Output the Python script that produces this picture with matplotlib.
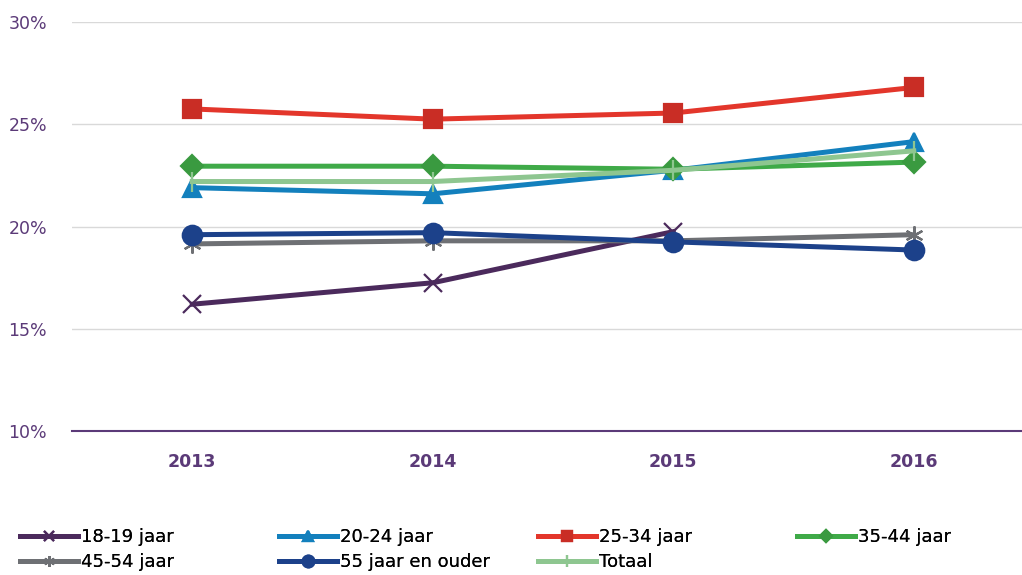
import matplotlib.pyplot as plt
import numpy as np

# data (percentages per age group)
years = ["2013", "2014", "2015", "2016"]
groups = ["18-19 jaar", "20-24 jaar", "25-34 jaar", "35-44 jaar",
          "45-54 jaar", "55 jaar en ouder", "Totaal"]
v_18_19 = [16.2, 17.25, 19.75, np.nan]
v_20_24 = [21.9, 21.6, 22.75, 24.15]
v_25_34 = [25.75, 25.25, 25.55, 26.8]
v_35_44 = [22.95, 22.95, 22.8, 23.15]
v_45_54 = [19.15, 19.3, 19.3, 19.6]
v_55 = [19.6, 19.7, 19.25, 18.85]
v_totaal = [22.2, 22.2, 22.75, 23.7]

series = [v_18_19, v_20_24, v_25_34, v_35_44, v_45_54, v_55, v_totaal]
line_colors = ["#4b2a5c", "#1380bd", "#e3362b", "#3faa48", "#6e7074", "#1c418a", "#8ec690"]
marker_colors = ["#4b2a5c", "#1380bd", "#c92d25", "#3a9a40", "#6e7074", "#1c418a", "#8ec690"]
markers = ["x", "^", "s", "D", (6, 2, 0), "o", "|"]
msizes = [13, 13, 13, 11, 13, 14, 14]

purple = "#5b3a78"

fig = plt.figure(figsize=(10.22, 5.75), dpi=100)
ax = fig.add_axes([0.0705, 0.2504, 0.9295, 0.7113])

x = np.arange(len(years))
handles = []
for vals, lab, lc, mc, m, ms in zip(series, groups, line_colors, marker_colors, markers, msizes):
    h, = ax.plot(x, vals, color=lc, lw=3.6, marker=m, markersize=ms,
                 markerfacecolor=mc, markeredgecolor=mc, markeredgewidth=1.6,
                 label=lab)
    handles.append(h)

ax.set_ylim(10, 30)
ax.set_xlim(-0.5, 3.45)
ax.set_yticks([10, 15, 20, 25, 30])
ax.set_yticklabels(["10%", "15%", "20%", "25%", "30%"])
ax.set_xticks(x)
ax.set_xticklabels(years, fontweight="bold")
ax.tick_params(axis="y", length=0, labelsize=12.5, labelcolor=purple, pad=18)
ax.tick_params(axis="x", length=0, labelsize=12.5, labelcolor=purple, pad=16)
ax.grid(axis="y", color="#d9d9d9", lw=1)
ax.set_axisbelow(True)
for s in ["top", "right", "left"]:
    ax.spines[s].set_visible(False)
ax.spines["bottom"].set_color(purple)
ax.spines["bottom"].set_linewidth(1.5)

# legend: 4 columns placed by hand, row-wise order like the original
col_x = [20, 279, 538, 797]
cols = [[0, 4], [1, 5], [2, 6], [3]]
for cx, idx in zip(col_x, cols):
    leg = fig.legend([handles[i] for i in idx], [groups[i] for i in idx],
                     loc="upper left", bbox_to_anchor=(cx / 1022, 0.082),
                     frameon=False, fontsize=13, handlelength=3.2,
                     handletextpad=0.2, labelspacing=0.4, borderpad=0,
                     borderaxespad=0, markerscale=0.6)
    fig.add_artist(leg)

fig.savefig("out.png", dpi=100)
